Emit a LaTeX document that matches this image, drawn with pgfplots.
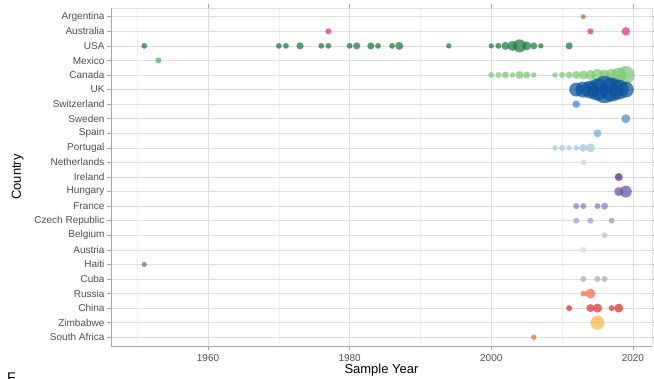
\documentclass[border=0pt]{standalone}
\usepackage{pgfplots}
\pgfplotsset{compat=1.18}
\usepackage{fontspec}
\setmainfont{Liberation Sans}
\definecolor{cArg}{HTML}{A6761D}
\definecolor{cAus}{HTML}{E7298A}
\definecolor{cUSA}{HTML}{1B7A3A}
\definecolor{cMex}{HTML}{4DB35E}
\definecolor{cCan}{HTML}{7CC576}
\definecolor{cUK}{HTML}{08519C}
\definecolor{cSwi}{HTML}{3D85C6}
\definecolor{cSwe}{HTML}{4A90C8}
\definecolor{cSpa}{HTML}{6BAED6}
\definecolor{cPor}{HTML}{9ECAE1}
\definecolor{cNet}{HTML}{C6DBEF}
\definecolor{cIre}{HTML}{54278F}
\definecolor{cHun}{HTML}{6A51A3}
\definecolor{cFra}{HTML}{807DBA}
\definecolor{cCze}{HTML}{9E9AC8}
\definecolor{cBel}{HTML}{BCBDDC}
\definecolor{cAut}{HTML}{DADAEB}
\definecolor{cHai}{HTML}{737373}
\definecolor{cCub}{HTML}{ABABAB}
\definecolor{cRus}{HTML}{FB6A4A}
\definecolor{cChi}{HTML}{DE2D26}
\definecolor{cZim}{HTML}{FDB642}
\definecolor{cSAf}{HTML}{F16913}
\definecolor{tickgray}{HTML}{4D4D4D}
\pgfplotsset{
  bub/.style={only marks, scatter, mark=*,
    scatter/use mapped color={draw=#1, fill=#1, draw opacity=0, fill opacity=0.72},
    mark options={draw=#1, fill=#1, draw opacity=0, fill opacity=0.72},
    visualization depends on={\thisrow{r} \as \rr},
    scatter/@pre marker code/.append style={/tikz/mark size=\rr}}
}
\begin{document}
\begin{tikzpicture}
\useasboundingbox (-111pt,-33pt) rectangle (543pt,346pt);
\begin{axis}[
  at={(0pt,0pt)}, anchor=south west,
  scale only axis, width=541pt, height=338pt,
  xmin=1946.3, xmax=2022.7, ymin=-0.6, ymax=22.6,
  xtick={1960,1980,2000,2020},
  minor xtick={1950,1970,1990,2010},
  ytick={0,...,22},
  yticklabels={South Africa,Zimbabwe,China,Russia,Cuba,Haiti,Austria,Belgium,Czech Republic,France,Hungary,Ireland,Netherlands,Portugal,Spain,Sweden,Switzerland,UK,Canada,Mexico,USA,Australia,Argentina},
  /pgf/number format/assume math mode=true,
  /pgf/number format/1000 sep={},
  tick label style={font=\fontsize{10}{12}\selectfont, text=tickgray},
  xticklabel style={yshift=-1pt},
  yticklabel style={xshift=1pt},
  tick align=outside,
  major tick length=4pt, minor tick length=0pt,
  tick style={gray!70, line width=0.5pt},
  xmajorgrids, ymajorgrids, xminorgrids,
  major grid style={gray!25, line width=0.6pt},
  minor grid style={gray!13, line width=0.5pt},
  axis line style={draw=none},
  xlabel={Sample Year}, ylabel={Country},
  label style={font=\fontsize{13}{15}\selectfont, text=black},
  xlabel style={yshift=4pt},
  ylabel style={yshift=4pt},
  clip=false,
]
\draw[gray!25, line width=0.6pt] (rel axis cs:0,1) -- (rel axis cs:1,1) -- (rel axis cs:1,0);
\draw[gray!70, line width=0.6pt] (rel axis cs:0,1) -- (rel axis cs:0,0) -- (rel axis cs:1,0);
% Argentina
\addplot[bub=cArg] table[row sep=\\]{x y r\\ 2013 22 2.5\\};
% Australia
\addplot[bub=cAus] table[row sep=\\]{x y r\\ 1977 21 3\\ 2014 21 3\\ 2019 21 4.2\\};
% USA
\addplot[bub=cUSA] table[row sep=\\]{x y r\\
1951 20 2.9\\ 1970 20 2.9\\ 1971 20 2.9\\ 1973 20 3.6\\ 1976 20 2.9\\ 1977 20 2.9\\
1980 20 2.9\\ 1981 20 3.6\\ 1983 20 3.6\\ 1984 20 2.9\\ 1986 20 2.9\\ 1987 20 4\\
1994 20 2.7\\ 2000 20 2.7\\ 2001 20 3\\ 2002 20 4\\ 2003 20 5\\ 2004 20 6.5\\ 2005 20 4.5\\
2006 20 3.5\\ 2007 20 2.7\\ 2011 20 3.6\\};
% Mexico
\addplot[bub=cMex] table[row sep=\\]{x y r\\ 1953 19 3\\};
% Canada
\addplot[bub=cCan] table[row sep=\\]{x y r\\
2000 18 3\\ 2001 18 3\\ 2002 18 3.5\\ 2003 18 2.7\\ 2004 18 4\\ 2005 18 3.5\\ 2006 18 2.7\\
2009 18 2.7\\ 2010 18 3\\ 2011 18 3.5\\ 2012 18 4\\ 2013 18 4.5\\ 2014 18 5\\ 2015 18 6\\
2016 18 5.5\\ 2017 18 6\\ 2018 18 7.5\\ 2019 18 9\\};
% UK
\addplot[bub=cUK] table[row sep=\\]{x y r\\
2012 17 7\\ 2013 17 8\\ 2014 17 9\\ 2015 17 11\\ 2016 17 13.5\\ 2017 17 12\\ 2018 17 10\\ 2019 17 8\\};
% Switzerland
\addplot[bub=cSwi] table[row sep=\\]{x y r\\ 2012 16 3.8\\};
% Sweden
\addplot[bub=cSwe] table[row sep=\\]{x y r\\ 2019 15 4.5\\};
% Spain
\addplot[bub=cSpa] table[row sep=\\]{x y r\\ 2015 14 4\\};
% Portugal
\addplot[bub=cPor] table[row sep=\\]{x y r\\
2009 13 2.7\\ 2010 13 3\\ 2011 13 2.7\\ 2012 13 2.7\\ 2013 13 4\\ 2014 13 4.5\\};
% Netherlands
\addplot[bub=cNet] table[row sep=\\]{x y r\\ 2013 12 3\\};
% Ireland
\addplot[bub=cIre] table[row sep=\\]{x y r\\ 2018 11 4\\};
% Hungary
\addplot[bub=cHun] table[row sep=\\]{x y r\\ 2018 10 4.5\\ 2019 10 6\\};
% France
\addplot[bub=cFra] table[row sep=\\]{x y r\\ 2012 9 3\\ 2013 9 3\\ 2015 9 3\\ 2016 9 3.5\\};
% Czech Republic
\addplot[bub=cCze] table[row sep=\\]{x y r\\ 2012 8 3\\ 2014 8 3\\ 2017 8 3\\};
% Belgium
\addplot[bub=cBel] table[row sep=\\]{x y r\\ 2016 7 3\\};
% Austria
\addplot[bub=cAut] table[row sep=\\]{x y r\\ 2013 6 3\\};
% Haiti
\addplot[bub=cHai] table[row sep=\\]{x y r\\ 1951 5 2.6\\};
% Cuba
\addplot[bub=cCub] table[row sep=\\]{x y r\\ 2013 4 3\\ 2015 4 3\\ 2016 4 3\\};
% Russia
\addplot[bub=cRus] table[row sep=\\]{x y r\\ 2013 3 3\\ 2014 3 5\\};
% China
\addplot[bub=cChi] table[row sep=\\]{x y r\\ 2011 2 3\\ 2014 2 4\\ 2015 2 4.5\\ 2017 2 3\\ 2018 2 4.5\\};
% Zimbabwe
\addplot[bub=cZim] table[row sep=\\]{x y r\\ 2015 1 7\\};
% South Africa
\addplot[bub=cSAf] table[row sep=\\]{x y r\\ 2006 0 2.7\\};
\end{axis}
\node[anchor=north west, inner sep=0pt, font=\fontsize{14}{16}\selectfont] at (-104pt,-27pt) {F};
\end{tikzpicture}
\end{document}
